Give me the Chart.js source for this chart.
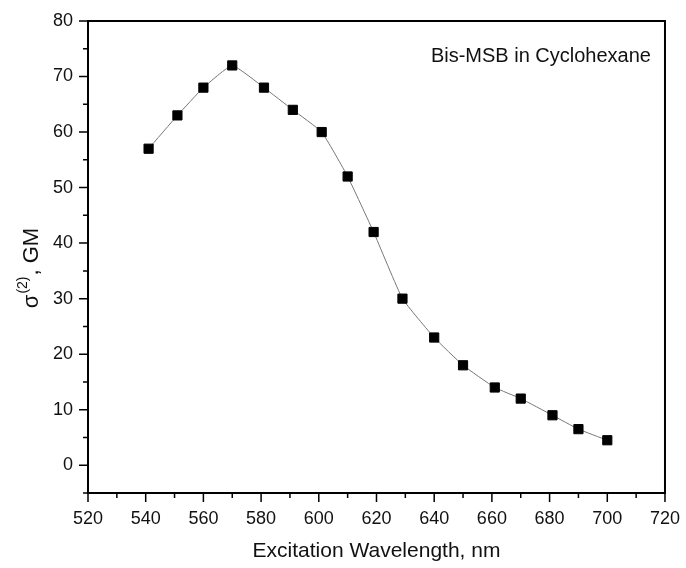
<!DOCTYPE html>
<html>
<head>
<meta charset="utf-8">
<script src="https://cdn.jsdelivr.net/npm/chart.js@4/dist/chart.umd.min.js"></script>
<style>
  html, body { margin: 0; padding: 0; background: #fff; }
  #wrap { width: 686px; height: 568px; }
</style>
</head>
<body>
<div id="wrap"><canvas id="c"></canvas></div>
<script>
// datos
const wavelengths = [541, 551, 560, 570, 581, 591, 601, 610, 619, 629, 640, 650, 661, 670, 681, 690, 700];
const sigma2 = [57, 63, 68, 72, 68, 64, 60, 52, 42, 30, 23, 18, 14, 12, 9, 6.5, 4.5];
const xTicks = [520, 540, 560, 580, 600, 620, 640, 660, 680, 700, 720];
const yTicks = [0, 10, 20, 30, 40, 50, 60, 70, 80];
const plotTitle = "Bis-MSB in Cyclohexane";
const xTitle = "Excitation Wavelength, nm";

const FONT = "'Liberation Sans', Arial, sans-serif";

// marco, ticks mayores/menores, titulos
const framePlugin = {
  id: "frame",
  afterDraw(chart) {
    const ctx = chart.ctx;
    const { left, right, top, bottom } = chart.chartArea;
    const xs = chart.scales.x, ys = chart.scales.y;
    ctx.save();
    ctx.strokeStyle = "#000";
    ctx.lineWidth = 2;
    ctx.strokeRect(left, top, right - left, bottom - top);

    ctx.lineWidth = 1.5;
    ctx.beginPath();
    // eje x: mayores cada 20, menores entre medias
    for (let i = 0; i < xTicks.length; i++) {
      const px = xs.getPixelForValue(xTicks[i]);
      ctx.moveTo(px, bottom); ctx.lineTo(px, bottom + 9);
      if (i < xTicks.length - 1) {
        const pm = xs.getPixelForValue((xTicks[i] + xTicks[i + 1]) / 2);
        ctx.moveTo(pm, bottom); ctx.lineTo(pm, bottom + 5);
      }
    }
    // eje y
    for (let i = 0; i < yTicks.length; i++) {
      const py = ys.getPixelForValue(yTicks[i]);
      ctx.moveTo(left, py); ctx.lineTo(left - 9, py);
      const prev = i === 0 ? yTicks[0] - (yTicks[1] - yTicks[0]) : yTicks[i - 1];
      const pm = ys.getPixelForValue((prev + yTicks[i]) / 2);
      ctx.moveTo(left, pm); ctx.lineTo(left - 5, pm);
    }
    ctx.stroke();

    // titulo dentro del area
    ctx.fillStyle = "#111";
    ctx.font = "20px " + FONT;
    ctx.textAlign = "right";
    ctx.textBaseline = "middle";
    ctx.fillText(plotTitle, right - 14, 56);

    // titulo eje x
    ctx.textAlign = "center";
    ctx.font = "21px " + FONT;
    ctx.fillText(xTitle, (left + right) / 2, 551);

    // titulo eje y: sigma^(2), GM
    const cy = (top + bottom) / 2 + 12;
    ctx.translate(30, cy);
    ctx.rotate(-Math.PI / 2);
    const big = "22px " + FONT, small = "14px " + FONT;
    ctx.font = big; const w1 = ctx.measureText("\u03c3").width;
    const w3 = ctx.measureText(", GM").width;
    ctx.font = small; const w2 = ctx.measureText("(2)").width;
    let x0 = -(w1 + w2 + w3) / 2;
    ctx.textAlign = "left";
    ctx.textBaseline = "alphabetic";
    ctx.font = big; ctx.fillText("\u03c3", x0, 8);
    ctx.font = small; ctx.fillText("(2)", x0 + w1 + 1, -3);
    ctx.font = big; ctx.fillText(", GM", x0 + w1 + w2 + 2, 8);
    ctx.restore();
  }
};

new Chart(document.getElementById("c"), {
  type: "line",
  data: {
    datasets: [{
      data: wavelengths.map((w, i) => ({ x: w, y: sigma2[i] })),
      borderColor: "#777",
      borderWidth: 1,
      tension: 0.12,
      pointStyle: "rect",
      pointRadius: 6.5,
      pointBackgroundColor: "#000",
      pointBorderColor: "#000",
      pointBorderWidth: 1,
      fill: false
    }]
  },
  options: {
    responsive: true,
    maintainAspectRatio: false,
    animation: false,
    layout: { padding: { top: 21, right: 20, left: 0, bottom: 0 } },
    plugins: { legend: { display: false }, tooltip: { enabled: false } },
    scales: {
      x: {
        type: "linear",
        min: 520, max: 720,
        afterBuildTicks: (s) => { s.ticks = xTicks.map(v => ({ value: v })); },
        afterFit: (s) => { s.height = 75; },
        grid: { display: false, drawTicks: true, tickLength: 9 },
        border: { display: false },
        ticks: { color: "#111", font: { family: FONT, size: 18 }, padding: 6, maxRotation: 0 }
      },
      y: {
        min: -5, max: 80,
        afterBuildTicks: (s) => { s.ticks = yTicks.map(v => ({ value: v })); },
        afterFit: (s) => { s.width = 88; },
        grid: { display: false, drawTicks: true, tickLength: 9 },
        border: { display: false },
        ticks: { color: "#111", font: { family: FONT, size: 18 }, padding: 6 }
      }
    }
  },
  plugins: [framePlugin]
});
</script>
</body>
</html>
